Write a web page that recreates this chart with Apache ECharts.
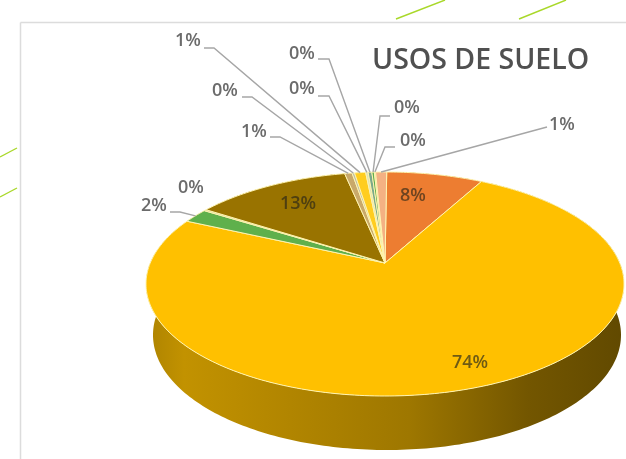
<!DOCTYPE html>
<html>
<head>
<meta charset="utf-8">
<title>Usos de suelo</title>
<style>
  html, body { margin: 0; padding: 0; background: #fff; }
  #chart { width: 626px; height: 459px; filter: blur(0.7px); }
</style>
<script src="https://cdn.jsdelivr.net/npm/echarts@6/dist/echarts.min.js"></script>
</head>
<body>
<div id="chart"></div>
<script>
(function() {
  'use strict';

  // ========== Data (clockwise from the top) ==========
  var values = [7.8, 73.9, 2.1, 0.2, 12.6, 0.6, 0.2, 0.9, 0.2, 0.3, 0.2, 0.1, 0.9];
  var colors = ['#ED7D31', '#FFC000', '#5FB04C', '#C9D7A0', '#997300', '#C9A96A', '#BDBDAA',
    '#FFCD1F', '#DDE3B8', '#7BA88A', '#5FAF50', '#D9C9A0', '#F4B183'];
  var titleText = 'USOS DE SUELO';
  var total = values.reduce(function(a, b) { return a + b; }, 0);

  // ========== Layout ==========
  var top = { cx: 385, cy: 284, rx: 239, ry: 112 };
  var bottom = { cx: 387, cy: 335, rx: 234, ry: 115 };
  var perspective = -0.1875; // moves the apex up from the middle of the ellipse
  var startAngle = 0.5;
  var labelPos = [[413, 196], [470, 363], [154, 206], [191, 188], [298, 204], [254, 132], [225, 91],
    [188, 41], [302, 89], [302, 54], [407, 108], [413, 141], [562, 125]];
  var leaderStart = [null, null, [[170, 212], [180, 212]], null, null, [[270, 137], [280, 137]],
    [[242, 97], [252, 97]], [[204, 48], [214, 48]], [[318, 96], [329, 96]], [[318, 59], [329, 59]],
    [[390, 116], [380, 116]], [[395, 147], [385, 147]], [[547, 127]]];
  var labelColors = ['#6E4420', '#6E5A14', '#6B6B6B', '#6B6B6B', '#4E3F10', '#6B6B6B', '#6B6B6B',
    '#6B6B6B', '#6B6B6B', '#6B6B6B', '#6B6B6B', '#6B6B6B', '#6B6B6B'];

  // multiply a #rrggbb colour by f
  function shade(hex, f) {
    var n = parseInt(hex.slice(1), 16);
    var r = Math.round((n >> 16) * f);
    var g = Math.round(((n >> 8) & 255) * f);
    var b = Math.round((n & 255) * f);
    return 'rgb(' + r + ',' + g + ',' + b + ')';
  }

  // circle angle (degrees from top, clockwise) to a point on the ellipse
  function project(deg, e) {
    var t = (deg + startAngle) * Math.PI / 180;
    var u = Math.sin(t);
    var v = -Math.cos(t);
    var w = 1 + perspective * v;
    var k = Math.sqrt(1 - perspective * perspective);
    return [e.cx + e.rx * u * k / w, e.cy + e.ry * (v + perspective) / w];
  }

  function sliceRange(i) {
    var from = 0;
    for (var n = 0; n < i; n++) from += values[n];
    return [from / total * 360, (from + values[i]) / total * 360];
  }

  function arcPoints(a, b, e) {
    var pts = [];
    var steps = Math.max(2, Math.ceil(b - a));
    for (var s = 0; s <= steps; s++) pts.push(project(a + (b - a) * s / steps, e));
    return pts;
  }

  function renderWall(params, api) {
    var i = params.dataIndex;
    var r = sliceRange(i);
    var c = colors[i];
    return {
      type: 'polygon',
      shape: { points: arcPoints(r[0], r[1], top).concat(arcPoints(r[0], r[1], bottom).reverse()) },
      style: {
        fill: new echarts.graphic.LinearGradient(146, 0, 624, 0, [
          { offset: 0, color: shade(c, 0.68) },
          { offset: 0.08, color: shade(c, 0.76) },
          { offset: 0.25, color: shade(c, 0.71) },
          { offset: 0.55, color: shade(c, 0.62) },
          { offset: 0.8, color: shade(c, 0.45) },
          { offset: 1, color: shade(c, 0.38) }
        ], true)
      }
    };
  }

  function renderTop(params, api) {
    var i = params.dataIndex;
    var r = sliceRange(i);
    var apex = [top.cx, top.cy + top.ry * perspective];
    return {
      type: 'polygon',
      shape: { points: [apex].concat(arcPoints(r[0], r[1], top)) },
      style: { fill: colors[i], stroke: '#FFF4B0', lineWidth: 1, lineJoin: 'round' }
    };
  }

  function renderLabel(params, api) {
    var i = params.dataIndex;
    var r = sliceRange(i);
    var children = [];
    if (leaderStart[i]) {
      children.push({
        type: 'polyline',
        shape: { points: leaderStart[i].concat([project((r[0] + r[1]) / 2, top)]) },
        style: { fill: null, stroke: '#A6A6A6', lineWidth: 1.4 }
      });
    }
    children.push({
      type: 'text',
      style: {
        x: labelPos[i][0],
        y: labelPos[i][1],
        text: Math.round(values[i]) + '%',
        fill: labelColors[i],
        font: '600 18px "Open Sans"',
        align: 'center',
        verticalAlign: 'middle'
      }
    });
    return { type: 'group', children: children };
  }

  // ========== Frame and slide decoration ==========
  function line(x1, y1, x2, y2, color, width) {
    return {
      type: 'line',
      shape: { x1: x1, y1: y1, x2: x2, y2: y2 },
      style: { stroke: color, lineWidth: width }
    };
  }

  var chart = echarts.init(document.getElementById('chart'), null, { renderer: 'canvas' });
  chart.setOption({
    animation: false,
    graphic: [
      line(20.5, 22.5, 626, 22.5, '#DCDCDC', 1.5),
      line(20.5, 22.5, 20.5, 459, '#DCDCDC', 1.5),
      line(396, 19, 445, 0, '#A9D82A', 1.4),
      line(519, 19, 566, 0, '#A9D82A', 1.4),
      line(0, 157, 17, 148, '#A9D82A', 1.4),
      line(0, 197, 17, 188, '#A9D82A', 1.4)
    ],
    title: {
      text: titleText,
      left: 372,
      top: 41,
      padding: [5, 0],
      textStyle: { color: '#505050', fontFamily: 'Open Sans', fontSize: 28.5, fontWeight: 600 }
    },
    series: [
      { type: 'custom', coordinateSystem: 'none', silent: true, z: 1, data: values, renderItem: renderWall },
      { type: 'custom', coordinateSystem: 'none', silent: true, z: 2, data: values, renderItem: renderTop },
      { type: 'custom', coordinateSystem: 'none', silent: true, z: 3, data: values, renderItem: renderLabel }
    ]
  });
  window.addEventListener('resize', function() { chart.resize(); });
})();
</script>
</body>
</html>
